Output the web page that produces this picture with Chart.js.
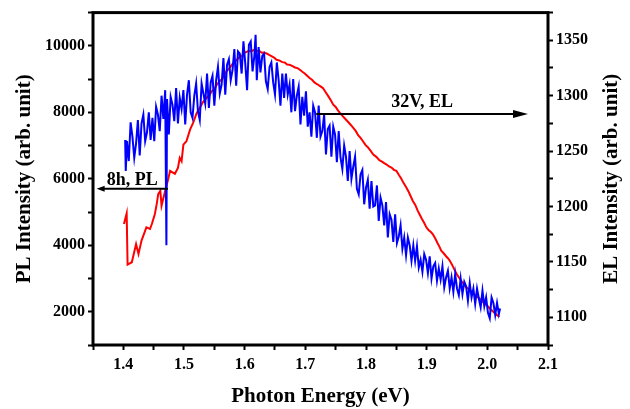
<!DOCTYPE html>
<html>
<head>
<meta charset="utf-8">
<script src="https://cdn.jsdelivr.net/npm/chart.js@4.4.1/dist/chart.umd.min.js"></script>
<style>
  html, body { margin: 0; padding: 0; background: #ffffff; }
  #wrap { width: 630px; height: 409px; }
</style>
</head>
<body>
<div id="wrap"><canvas id="c" width="630" height="409"></canvas></div>
<script>
// ---------- DATA ----------
const plEnergy = [1.401,1.4055,1.407,1.414,1.421,1.425,1.430,1.438,1.444,1.447,1.452,1.455,1.4575,1.461,1.463,1.469,1.474,1.477,1.485,1.490,1.493,1.496,1.499,1.504,1.510,1.515,1.521,1.526,1.531,1.537,1.542,1.546,1.550,1.554,1.559,1.563,1.567,1.570,1.575,1.581,1.586,1.590,1.595,1.599,1.603,1.607,1.611,1.614,1.619,1.624,1.628,1.632,1.636,1.641,1.645,1.649,1.6525,1.657,1.662,1.666,1.670,1.674,1.679,1.683,1.687,1.691,1.695,1.699,1.703,1.707,1.711,1.715,1.718,1.721,1.725,1.729,1.733,1.738,1.742,1.746,1.750,1.754,1.758,1.762,1.766,1.771,1.775,1.779,1.783,1.787,1.791,1.795,1.799,1.803,1.808,1.812,1.817,1.822,1.827,1.830,1.834,1.838,1.842,1.846,1.850,1.854,1.858,1.862,1.8665,1.870,1.874,1.877,1.881,1.885,1.888,1.892,1.896,1.8995,1.903,1.907,1.910,1.914,1.918,1.921,1.924,1.928,1.932,1.935,1.938,1.942,1.946,1.949,1.953,1.957,1.960,1.964,1.968,1.971,1.975,1.979,1.983,1.987,1.991,1.995,2.000,2.004,2.008,2.012,2.016,2.020];
const plIntensity = [4640,4960,3420,3490,4040,3740,4140,4540,4490,4640,4940,5240,5540,5640,5190,5640,5990,6240,6150,6330,6630,6530,7030,7130,7480,7680,7980,8130,8300,8430,8520,8640,8700,8830,8940,9000,9150,9230,9330,9480,9560,9640,9690,9780,9820,9850,9830,9870,9840,9850,9790,9800,9770,9720,9680,9640,9580,9560,9510,9500,9440,9430,9390,9350,9330,9280,9220,9170,9100,9030,8980,8900,8860,8830,8780,8730,8620,8480,8360,8230,8160,8050,7960,7880,7800,7700,7620,7530,7440,7310,7230,7130,7020,6950,6830,6730,6660,6560,6510,6470,6430,6370,6340,6270,6240,6120,6010,5870,5740,5620,5460,5340,5220,5050,4940,4800,4670,4540,4460,4400,4340,4210,4060,3960,3840,3760,3670,3610,3540,3410,3260,3150,3040,2930,2850,2760,2700,2650,2580,2520,2460,2400,2330,2250,2180,2100,2030,1960,1900,1850];

const elEnergy = [1.403,1.404,1.406,1.409,1.412,1.415,1.418,1.421,1.424,1.427,1.430,1.433,1.436,1.439,1.442,1.445,1.448,1.451,1.454,1.457,1.460,1.463,1.466,1.469,1.471,1.472,1.475,1.478,1.481,1.484,1.487,1.490,1.493,1.496,1.499,1.502,1.505,1.508,1.511,1.514,1.517,1.520,1.523,1.526,1.529,1.532,1.535,1.538,1.541,1.544,1.547,1.550,1.553,1.556,1.559,1.562,1.565,1.568,1.571,1.574,1.577,1.580,1.583,1.586,1.589,1.592,1.595,1.598,1.601,1.604,1.607,1.610,1.613,1.616,1.618,1.620,1.623,1.626,1.629,1.632,1.635,1.638,1.641,1.644,1.647,1.650,1.653,1.656,1.659,1.662,1.665,1.668,1.671,1.674,1.677,1.680,1.683,1.686,1.689,1.692,1.695,1.698,1.701,1.704,1.707,1.710,1.713,1.716,1.719,1.722,1.725,1.728,1.731,1.734,1.737,1.740,1.743,1.746,1.749,1.752,1.755,1.758,1.761,1.764,1.767,1.770,1.773,1.776,1.779,1.782,1.785,1.788,1.791,1.794,1.797,1.800,1.803,1.806,1.809,1.812,1.815,1.818,1.821,1.824,1.827,1.830,1.833,1.836,1.839,1.842,1.845,1.848,1.851,1.854,1.857,1.860,1.863,1.866,1.869,1.872,1.875,1.878,1.881,1.884,1.887,1.890,1.893,1.896,1.899,1.902,1.905,1.908,1.911,1.914,1.917,1.920,1.923,1.926,1.929,1.932,1.935,1.938,1.941,1.944,1.947,1.950,1.953,1.956,1.959,1.962,1.965,1.968,1.971,1.974,1.977,1.980,1.983,1.986,1.989,1.992,1.995,1.998,2.001,2.004,2.007,2.010,2.013,2.016,2.019,2.021];
const elIntensity = [1260,1232,1259,1241,1276,1263,1244,1257,1278,1246,1275,1283,1259,1267,1285,1260,1280,1259,1290,1283,1268,1300,1279,1305,1165,1297,1265,1299,1292,1277,1307,1275,1298,1288,1305,1274,1301,1314,1285,1280,1300,1311,1286,1278,1311,1302,1293,1320,1289,1312,1318,1291,1314,1326,1302,1310,1334,1301,1328,1333,1314,1323,1342,1309,1340,1338,1320,1349,1329,1305,1346,1349,1322,1336,1355,1314,1344,1321,1336,1338,1313,1306,1326,1330,1312,1301,1330,1314,1291,1320,1298,1320,1301,1310,1285,1315,1286,1300,1308,1274,1299,1282,1304,1272,1285,1263,1291,1285,1262,1291,1263,1268,1283,1247,1270,1273,1245,1272,1265,1240,1268,1244,1234,1255,1245,1223,1250,1225,1236,1245,1216,1211,1229,1233,1202,1217,1224,1198,1223,1200,1201,1219,1187,1208,1201,1183,1204,1172,1193,1188,1168,1193,1167,1173,1183,1162,1172,1156,1172,1165,1151,1165,1151,1164,1145,1152,1141,1157,1152,1140,1155,1135,1146,1149,1133,1144,1134,1146,1127,1136,1142,1126,1136,1123,1139,1126,1120,1135,1121,1132,1128,1115,1131,1118,1126,1112,1126,1117,1109,1124,1110,1118,1104,1099,1118,1113,1102,1113,1103,1108];

const xTicks = [1.35,1.40,1.45,1.50,1.55,1.60,1.65,1.70,1.75,1.80,1.85,1.90,1.95,2.00,2.05,2.10];
const xTickLabels = ['','1.4','','1.5','','1.6','','1.7','','1.8','','1.9','','2.0','','2.1'];
const plTicks = [1000,2000,3000,4000,5000,6000,7000,8000,9000,10000,11000];
const plTickLabels = ['','2000','','4000','','6000','','8000','','10000',''];
const elTicks = [1075,1100,1125,1150,1175,1200,1225,1250,1275,1300,1325,1350,1375];
const elTickLabels = ['','1100','','1150','','1200','','1250','','1300','','1350',''];

const xTitle = 'Photon Energy (eV)';
const plTitle = 'PL Intensity (arb. unit)';
const elTitle = 'EL Intensity (arb. unit)';
const plNote = '8h, PL';
const elNote = '32V, EL';

// ---------- CHART ----------
const SERIF = '"Liberation Serif", "Times New Roman", serif';

const plArrow = { from: 1.4735, to: 1.356, level: 5700, axis: 'yPL', text: plNote, gap: 3.5, head: 8, half: 3 };
const elArrow = { from: 1.718, to: 2.067, level: 1283.5, axis: 'yEL', text: elNote, gap: 6.5, head: 15, half: 4 };

function fixTicks(values) {
  return function (scale) { scale.ticks = values.map(v => ({ value: v })); };
}

const decor = {
  id: 'decor',
  afterDatasetsDraw(chart) {
    const ctx = chart.ctx;
    const a = chart.chartArea;
    const xs = chart.scales.x;
    ctx.save();
    ctx.strokeStyle = '#000';
    ctx.lineWidth = 3;
    ctx.strokeRect(a.left, a.top, a.right - a.left, a.bottom - a.top);

    [plArrow, elArrow].forEach(ar => {
      const ys = chart.scales[ar.axis];
      const x1 = xs.getPixelForValue(ar.from);
      const x2 = xs.getPixelForValue(ar.to);
      const y = ys.getPixelForValue(ar.level);
      const dir = x2 > x1 ? 1 : -1;
      ctx.strokeStyle = '#000';
      ctx.fillStyle = '#000';
      ctx.lineWidth = 2;
      ctx.beginPath();
      ctx.moveTo(x1, y);
      ctx.lineTo(x2 - dir * ar.head * 0.8, y);
      ctx.stroke();
      ctx.beginPath();
      ctx.moveTo(x2, y);
      ctx.lineTo(x2 - dir * ar.head, y - ar.half);
      ctx.lineTo(x2 - dir * ar.head, y + ar.half);
      ctx.closePath();
      ctx.fill();
      ctx.font = 'bold 18px ' + SERIF;
      ctx.textAlign = 'center';
      ctx.textBaseline = 'alphabetic';
      ctx.fillText(ar.text, (x1 + x2) / 2, y - ar.gap);
    });

    ctx.fillStyle = '#000';
    ctx.font = 'bold 21px ' + SERIF;
    ctx.textAlign = 'center';
    ctx.textBaseline = 'alphabetic';
    const cx = (a.left + a.right) / 2;
    const cy = (a.top + a.bottom) / 2;
    ctx.fillText(xTitle, cx, 402);
    ctx.save();
    ctx.translate(30, cy);
    ctx.rotate(-Math.PI / 2);
    ctx.fillText(plTitle, 0, 0);
    ctx.restore();
    ctx.save();
    ctx.translate(617, cy);
    ctx.rotate(-Math.PI / 2);
    ctx.fillText(elTitle, 0, 0);
    ctx.restore();
    ctx.restore();
  }
};

const tickFont = { family: SERIF, size: 16, weight: 'bold' };
const gridCfg = { drawOnChartArea: false, drawTicks: true, tickLength: 5, tickWidth: 2, tickColor: '#000' };

new Chart(document.getElementById('c'), {
  type: 'scatter',
  data: {
    datasets: [
      {
        label: 'EL',
        data: elEnergy.map((e, i) => ({ x: e, y: elIntensity[i] })),
        yAxisID: 'yEL',
        showLine: true,
        borderColor: '#0000ff',
        borderWidth: 2,
        pointRadius: 0,
        tension: 0,
        order: 0
      },
      {
        label: 'PL',
        data: plEnergy.map((e, i) => ({ x: e, y: plIntensity[i] })),
        yAxisID: 'yPL',
        showLine: true,
        borderColor: '#ff0000',
        borderWidth: 2,
        pointRadius: 0,
        tension: 0,
        order: 1
      }
    ]
  },
  options: {
    responsive: false,
    devicePixelRatio: 1,
    animation: false,
    layout: { padding: { top: 11, left: 0, right: 0, bottom: 0 } },
    plugins: { legend: { display: false }, tooltip: { enabled: false } },
    scales: {
      x: {
        type: 'linear',
        position: 'bottom',
        min: 1.35, max: 2.1,
        afterBuildTicks: fixTicks(xTicks),
        afterFit: s => { s.height = 64; },
        grid: gridCfg,
        border: { display: false },
        ticks: { autoSkip: false, maxRotation: 0, padding: 5, color: '#000', font: tickFont,
                 callback: (v, i) => xTickLabels[i] }
      },
      yPL: {
        type: 'linear',
        position: 'left',
        min: 1000, max: 11000,
        afterBuildTicks: fixTicks(plTicks),
        afterFit: s => { s.width = 93; },
        grid: gridCfg,
        border: { display: false },
        ticks: { autoSkip: false, padding: 3, color: '#000', font: tickFont,
                 callback: (v, i) => plTickLabels[i] }
      },
      yEL: {
        type: 'linear',
        position: 'right',
        min: 1075, max: 1375,
        afterBuildTicks: fixTicks(elTicks),
        afterFit: s => { s.width = 82; },
        grid: gridCfg,
        border: { display: false },
        ticks: { autoSkip: false, padding: 3, color: '#000', font: tickFont,
                 callback: (v, i) => elTickLabels[i] }
      }
    }
  },
  plugins: [decor]
});
</script>
</body>
</html>
